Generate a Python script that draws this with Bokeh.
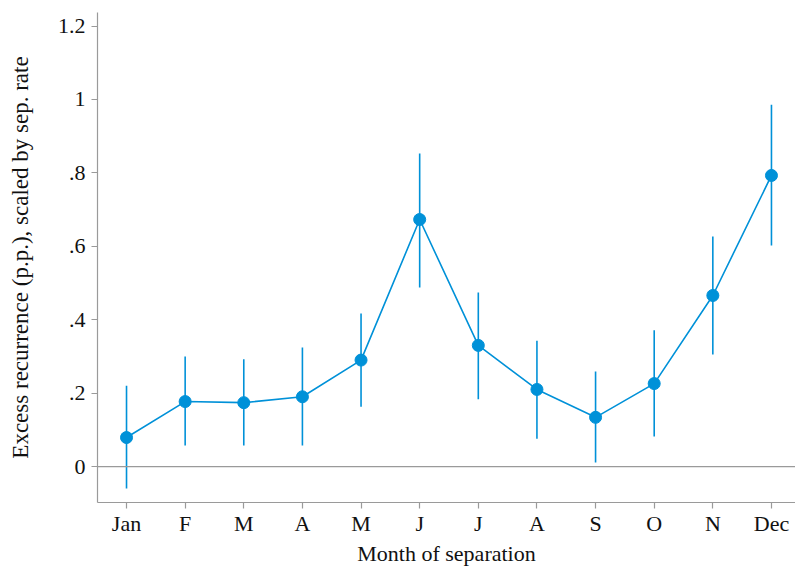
from bokeh.plotting import figure
from bokeh.models import FixedTicker, Span, ColumnDataSource, Range1d
from bokeh.embed import file_html
from bokeh.resources import INLINE

months = ["Jan", "F", "M", "A", "M", "J", "J", "A", "S", "O", "N", "Dec"]
month_idx = [1, 2, 3, 4, 5, 6, 7, 8, 9, 10, 11, 12]
estimate = [0.079, 0.177, 0.174, 0.190, 0.290, 0.673, 0.330, 0.210, 0.134, 0.226, 0.466, 0.793]
ci_low = [-0.060, 0.057, 0.057, 0.057, 0.163, 0.488, 0.183, 0.076, 0.011, 0.082, 0.305, 0.602]
ci_high = [0.220, 0.300, 0.292, 0.324, 0.417, 0.853, 0.474, 0.343, 0.259, 0.371, 0.627, 0.986]
y_ticks = [0, 0.2, 0.4, 0.6, 0.8, 1.0, 1.2]
y_tick_labels = ["0", ".2", ".4", ".6", ".8", "1", "1.2"]

FONT = "Liberation Serif"
BLUE = "#0091d8"
GRAY = "#9a9a9a"

src = ColumnDataSource(dict(x=month_idx, y=estimate, lo=ci_low, hi=ci_high))

p = figure(width=795, height=569, output_backend="svg", toolbar_location=None,
           x_range=Range1d(0.505, 12.41), y_range=Range1d(-0.098, 1.237),
           min_border_left=97, min_border_bottom=67, min_border_top=12, min_border_right=0)
p.outline_line_color = None
p.xgrid.grid_line_color = None
p.ygrid.grid_line_color = None
p.background_fill_color = "white"
p.border_fill_color = "white"

p.add_layout(Span(location=0, dimension="width", line_color=GRAY, line_width=1.2))

p.segment(x0="x", y0="lo", x1="x", y1="hi", source=src, line_color=BLUE, line_width=1.6)
p.line(x="x", y="y", source=src, line_color=BLUE, line_width=1.6)
p.scatter(x="x", y="y", source=src, size=12, fill_color=BLUE, line_color=BLUE)

p.xaxis.ticker = FixedTicker(ticks=month_idx)
p.xaxis.major_label_overrides = {i: m for i, m in zip(month_idx, months)}
p.yaxis.ticker = FixedTicker(ticks=y_ticks)
p.yaxis.major_label_overrides = {t: l for t, l in zip(y_ticks, y_tick_labels)}
p.yaxis.major_label_orientation = "horizontal"

for ax in (p.xaxis, p.yaxis):
    ax.axis_line_color = GRAY
    ax.axis_line_width = 1.2
    ax.major_tick_line_color = GRAY
    ax.major_tick_line_width = 1.2
    ax.major_tick_out = 6
    ax.major_tick_in = 0
    ax.minor_tick_line_color = None
    ax.major_label_text_font = FONT
    ax.major_label_text_font_size = "22px"
    ax.major_label_text_color = "#111111"
    ax.axis_label_text_font = FONT
    ax.axis_label_text_font_size = "22px"
    ax.axis_label_text_font_style = "normal"
    ax.axis_label_text_color = "#111111"

p.yaxis.axis_label_text_font_size = "23px"

p.xaxis.axis_label = "Month of separation"
p.yaxis.axis_label = "Excess recurrence (p.p.), scaled by sep. rate"
p.xaxis.major_label_standoff = 2
p.yaxis.major_label_standoff = 6
p.xaxis.axis_label_standoff = 2
p.yaxis.axis_label_standoff = 22

open("out.html", "w").write(file_html(p, INLINE))
